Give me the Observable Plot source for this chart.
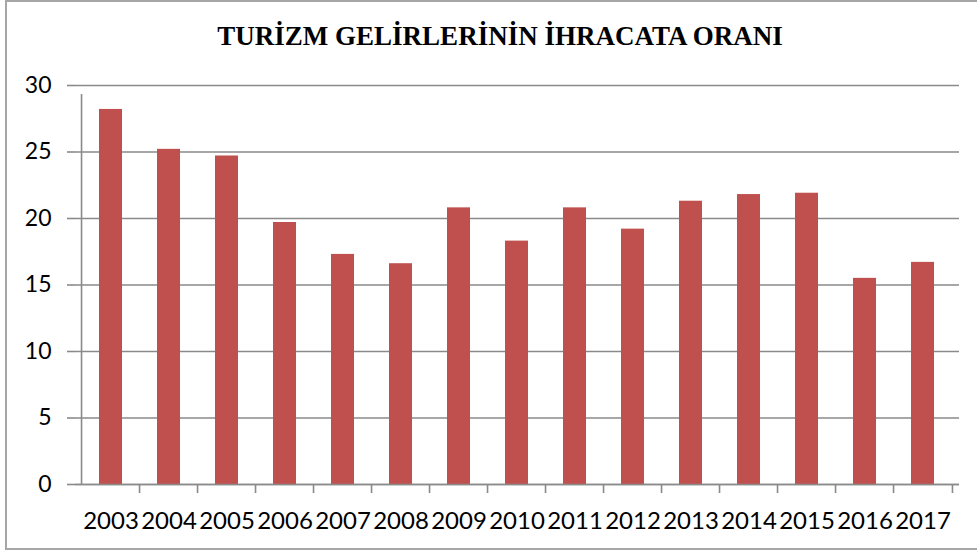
<!DOCTYPE html>
<html>
<head>
<meta charset="utf-8">
<script src="https://cdn.jsdelivr.net/npm/d3@7"></script>
<script src="https://cdn.jsdelivr.net/npm/@observablehq/plot@0.6"></script>
<style>
  html, body { margin: 0; padding: 0; background: #fff; }
  #wrap { position: relative; width: 977px; height: 554px; overflow: hidden; }
  #frame { position: absolute; left: 5px; top: 0px; width: 990px; height: 550px;
           border-top: 2px solid #a6a6a6; border-left: 2px solid #a6a6a6; border-bottom: 2px solid #a6a6a6; box-sizing: border-box; }
  #title { position: absolute; left: 0; top: 22px; width: 1000px; text-align: center;
           font-family: "Liberation Serif", "Times New Roman", serif; font-weight: bold; font-size: 27px; color: #000; line-height: 28px; }
  #chart { position: absolute; left: 0; top: 0; }
</style>
</head>
<body>
<div id="wrap">
  <div id="frame"></div>
  <div id="chart"></div>
  <div id="title">TURİZM GELİRLERİNİN İHRACATA ORANI</div>
</div>
<script>
const titleText = "TURİZM GELİRLERİNİN İHRACATA ORANI";
const years = ["2003","2004","2005","2006","2007","2008","2009","2010","2011","2012","2013","2014","2015","2016","2017"];
const values = [28.2, 25.2, 24.7, 19.7, 17.3, 16.6, 20.8, 18.3, 20.8, 19.2, 21.3, 21.8, 21.9, 15.5, 16.7];
const yTicks = [0, 5, 10, 15, 20, 25, 30];

const data = years.map((y, i) => ({year: y, value: values[i]}));

const W = 977, H = 554;
const mL = 75, mR = 18, mT = 85, mB = 70;
const step = (W - mL - mR) / years.length;
const grid = "#8a8a8a";

const plot = Plot.plot({
  width: W,
  height: H,
  marginLeft: mL,
  marginRight: mR,
  marginTop: mT,
  marginBottom: mB,
  style: {fontFamily: "Lato, 'Open Sans', sans-serif", background: "transparent", color: "#000"},
  x: {domain: years, paddingInner: 0.6, paddingOuter: 0.3, label: null},
  y: {domain: [0, 30], label: null},
  marks: [
    Plot.gridY(yTicks, {stroke: grid, strokeOpacity: 1, strokeWidth: 1.6}),
    Plot.barY(data, {x: "year", y: "value", fill: "#C0504D"}),
    Plot.ruleY([0], {stroke: grid, strokeWidth: 1.6}),
    Plot.ruleX([years[0]], {x: d => d, dx: -step / 2, y1: 0, y2: 30, insetBottom: -9, stroke: grid, strokeWidth: 1.6}),
    Plot.ruleX(years.slice(1), {x: d => d, dx: -step / 2, y1: 0, y2: 0, insetBottom: -9, stroke: grid, strokeWidth: 1.6}),
    Plot.ruleX([years[years.length - 1]], {x: d => d, dx: step / 2, y1: 0, y2: 0, insetBottom: -9, stroke: grid, strokeWidth: 1.6}),
    Plot.axisY(yTicks, {tickSize: 8, tickPadding: 16, stroke: grid, strokeWidth: 1.6, fill: "#000", fontSize: 23, label: null}),
    Plot.axisX({tickSize: 0, tickPadding: 27, fill: "#000", fontSize: 24, label: null})
  ]
});
document.getElementById("chart").appendChild(plot);
document.getElementById("title").textContent = titleText;
</script>
</body>
</html>
